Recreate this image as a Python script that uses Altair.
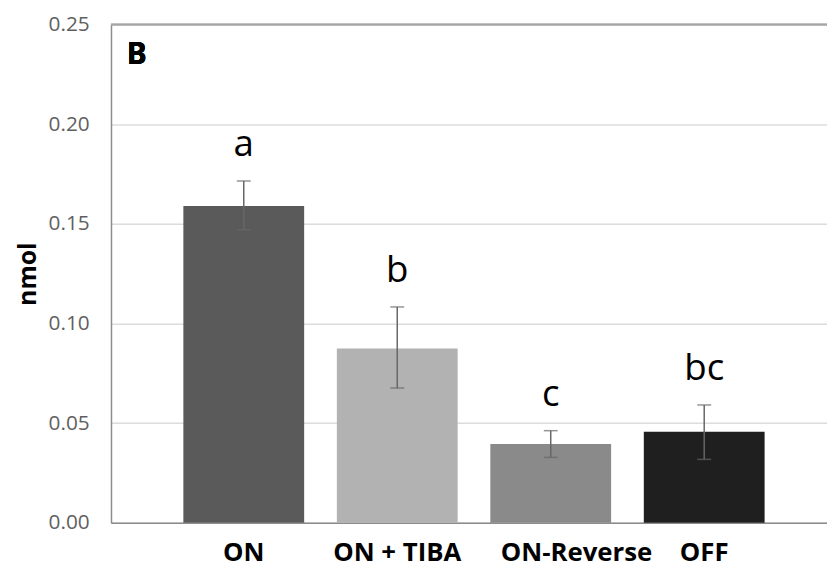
import altair as alt
import pandas as pd

categories = ["ON", "ON + TIBA", "ON-Reverse", "OFF"]
means = [0.159, 0.0875, 0.0395, 0.0457]
err_lo = [0.147, 0.0676, 0.0328, 0.0318]
err_hi = [0.1715, 0.1083, 0.0462, 0.0591]
letters = ["a", "b", "c", "bc"]
colors = ["#5a5a5a", "#b2b2b2", "#8a8a8a", "#1f1f1f"]
y_ticks = [0.0, 0.05, 0.10, 0.15, 0.20, 0.25]

df = pd.DataFrame({
    "cat": categories, "mean": means, "lo": err_lo, "hi": err_hi,
    "letter": letters, "color": colors,
})

FONT = "Open Sans"

label_offset = alt.condition(
    "datum.value == 'ON-Reverse'", alt.value(26),
    alt.value(0),
)

x_enc = alt.X(
    "cat:N", sort=categories, title=None,
    scale=alt.Scale(paddingInner=0.213, paddingOuter=0.439, align=0.537),
    axis=alt.Axis(labelAngle=0, labelFont=FONT, labelFontWeight="bold",
                  labelFontSize=26, labelColor="#000000", ticks=False,
                  labelPadding=17, labelOffset=label_offset,
                  domainColor="#8c8c8c", domainWidth=1.5, grid=False),
)
y_scale = alt.Scale(domain=[0, 0.25], nice=False, zero=True)
y_enc = alt.Y(
    "mean:Q", scale=y_scale, title="nmol",
    axis=alt.Axis(values=y_ticks, format=".2f", labelFont=FONT,
                  labelFontSize=21, labelColor="#5f5f5f", ticks=False,
                  labelPadding=22, domainColor="#8c8c8c", domainWidth=1.5,
                  grid=True, gridColor="#dcdcdc", gridWidth=1.5,
                  titleFont=FONT, titleFontWeight="bold", titleFontSize=25,
                  titleColor="#000000", titlePadding=8),
)

base = alt.Chart(df)

bars = base.mark_bar().encode(
    x=x_enc, y=y_enc,
    color=alt.Color("color:N", scale=None),
)

top_rule = alt.Chart(df).mark_rule(color="#a6a6a6", strokeWidth=1.5).encode(
    y=alt.datum(0.25, scale=y_scale)
)

err = base.mark_rule(color="#666666", strokeWidth=1.5).encode(
    x=alt.X("cat:N", sort=categories), y="lo:Q", y2="hi:Q"
)
cap_hi = base.mark_tick(color="#666666", thickness=1.5, size=14, orient="horizontal").encode(
    x=alt.X("cat:N", sort=categories), y="hi:Q"
)
cap_lo = base.mark_tick(color="#666666", thickness=1.5, size=14, orient="horizontal").encode(
    x=alt.X("cat:N", sort=categories), y="lo:Q"
)

text = base.mark_text(font=FONT, fontSize=37, color="#000000",
                      baseline="alphabetic", dy=-25).encode(
    x=alt.X("cat:N", sort=categories), y="hi:Q", text="letter:N"
)

panel = alt.Chart(df).mark_text(font=FONT, fontSize=30, fontWeight="bold",
                                color="#000000", align="left",
                                baseline="alphabetic").encode(
    x=alt.value(16), y=alt.value(40), text=alt.value("B")
)

chart = alt.layer(bars, top_rule, err, cap_hi, cap_lo, text, panel).properties(
    width=723, height=503,
    autosize=alt.AutoSizeParams(type="none"),
    padding={"left": 104, "top": 14, "right": 0, "bottom": 48},
).configure_view(stroke=None).configure(background="#ffffff")

chart.save("out.html", embed_options={"renderer": "svg", "actions": False})
